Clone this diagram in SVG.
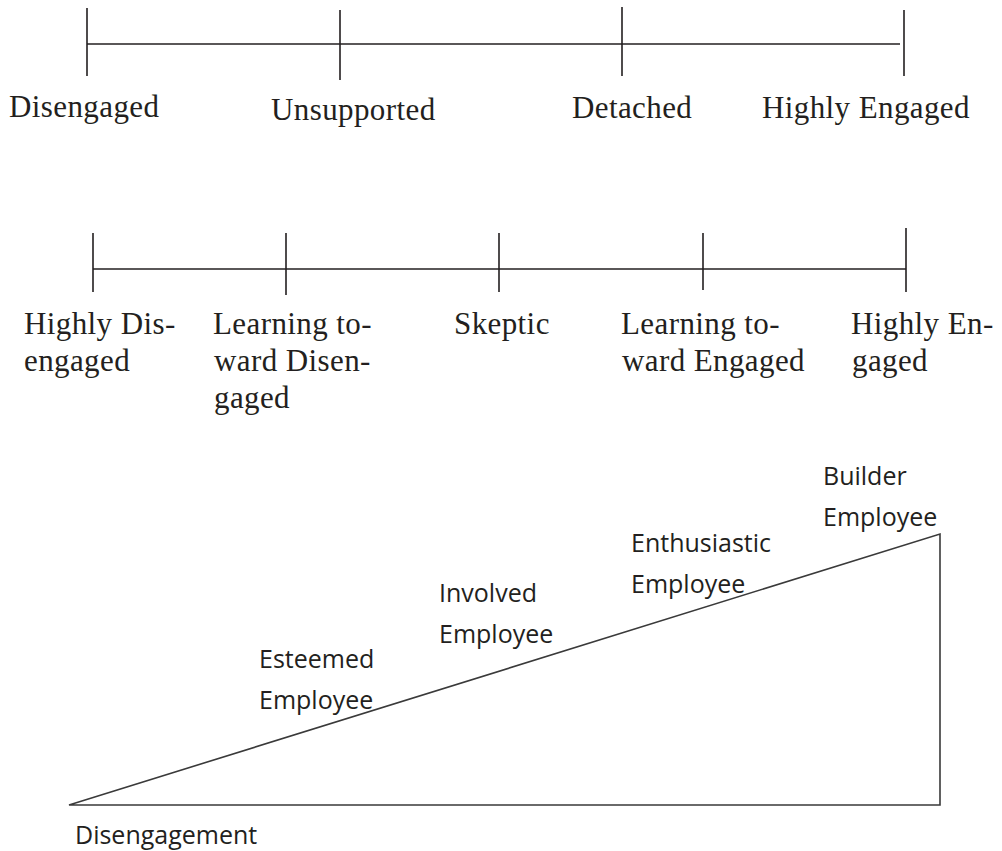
<svg xmlns="http://www.w3.org/2000/svg" width="1002" height="851" viewBox="0 0 1002 851">
<style>
.ax{stroke:#231f20;stroke-width:1.6;fill:none}
.tri{stroke:#3a3a3a;stroke-width:1.6;fill:none}
.ser{font-family:"Liberation Serif","Times New Roman",serif;font-size:31px;fill:#231f20;letter-spacing:0.4px}
.san{font-family:"Open Sans","Noto Sans",sans-serif;font-size:25px;fill:#231f20}
</style>
<rect width="1002" height="851" fill="#fff"/>
<g id="connectors">
  <g id="scale1">
    <line class="ax" x1="87" y1="44" x2="900" y2="44"/>
    <line class="ax" x1="87" y1="8" x2="87" y2="76"/>
    <line class="ax" x1="340" y1="10" x2="340" y2="80"/>
    <line class="ax" x1="622" y1="7" x2="622" y2="76"/>
    <line class="ax" x1="904" y1="10" x2="904" y2="76"/>
  </g>
  <g id="scale2">
    <line class="ax" x1="93" y1="269" x2="906" y2="269"/>
    <line class="ax" x1="93" y1="233" x2="93" y2="292"/>
    <line class="ax" x1="286" y1="233" x2="286" y2="295"/>
    <line class="ax" x1="499" y1="233" x2="499" y2="292"/>
    <line class="ax" x1="703" y1="233" x2="703" y2="290"/>
    <line class="ax" x1="906" y1="228" x2="906" y2="292"/>
  </g>
  <g id="triangle">
    <polygon class="tri" points="69,805 940,534 940,805"/>
  </g>
</g>
<g id="n-disengaged"><text class="ser" x="9" y="117">Disengaged</text></g>
<g id="n-unsupported"><text class="ser" x="271" y="120">Unsupported</text></g>
<g id="n-detached"><text class="ser" x="572" y="118">Detached</text></g>
<g id="n-highly-engaged"><text class="ser" x="762" y="118">Highly Engaged</text></g>

<g id="n-highly-disengaged"><text class="ser" x="24" y="334">Highly Dis-</text><text class="ser" x="24" y="371">engaged</text></g>
<g id="n-learning-disengaged"><text class="ser" x="213" y="334">Learning to-</text><text class="ser" x="214" y="371">ward Disen-</text><text class="ser" x="214" y="408">gaged</text></g>
<g id="n-skeptic"><text class="ser" x="454" y="334">Skeptic</text></g>
<g id="n-learning-engaged"><text class="ser" x="621" y="334">Learning to-</text><text class="ser" x="622" y="371">ward Engaged</text></g>
<g id="n-highly-en"><text class="ser" x="851" y="334">Highly En-</text><text class="ser" x="852" y="371">gaged</text></g>

<g id="n-esteemed"><text class="san" x="259" y="668">Esteemed</text><text class="san" x="259" y="709">Employee</text></g>
<g id="n-involved"><text class="san" x="439" y="602">Involved</text><text class="san" x="439" y="643">Employee</text></g>
<g id="n-enthusiastic"><text class="san" x="631" y="552">Enthusiastic</text><text class="san" x="631" y="593">Employee</text></g>
<g id="n-builder"><text class="san" x="823" y="485">Builder</text><text class="san" x="823" y="526">Employee</text></g>
<g id="n-disengagement"><text class="san" x="75" y="844">Disengagement</text></g>
</svg>
